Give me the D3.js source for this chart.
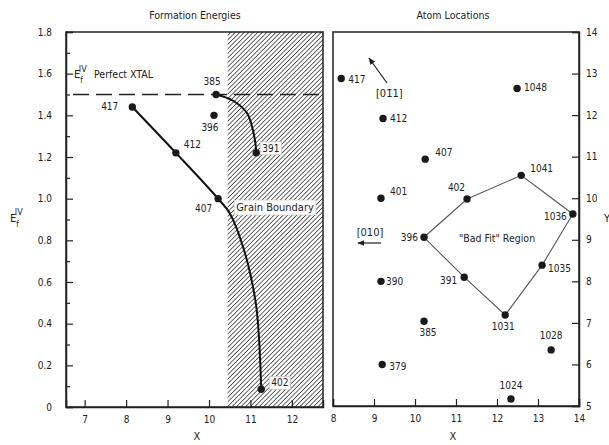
<!DOCTYPE html>
<html>
  <head>
    <meta charset="UTF-8">
    <style>
      body {
        margin: 0;
        background: white;
      }

      svg text {
        font-family: "Liberation Sans Narrow", "DejaVu Sans Condensed", "Liberation Sans", sans-serif;
        fill: #222;
        font-size: 10px;
      }

      .axis .domain {
        stroke: #222;
        stroke-width: 1.5;
      }

      .axis .tick line {
        stroke: #222;
        stroke-width: 1.2;
      }
    </style>
    <script src="https://d3js.org/d3.v7.min.js"></script>
  </head>

  <body>
    <svg id="chart"></svg>

    <script type="text/javascript">
      // left panel: formation energies vs x
      let energyIds = ['417', '412', '407', '402', '385', '396', '391']
      let energyX = [8.15, 9.2, 10.22, 11.26, 10.17, 10.12, 11.14]
      let energyE = [1.44, 1.22, 1.0, 0.085, 1.5, 1.4, 1.22]

      // hand-traced curves through the points
      let curveOne = [[8.15, 1.44], [9.2, 1.22], [10.22, 1.0], [10.5, 0.93], [10.85, 0.75], [11.12, 0.51], [11.2, 0.35], [11.26, 0.085]]
      let curveTwo = [[10.17, 1.5], [10.58, 1.47], [10.92, 1.41], [11.1, 1.29], [11.14, 1.22]]

      let perfectXtal = 1.5
      let grainStart = 10.45

      let energyXTicks = [7, 8, 9, 10, 11, 12]
      let energyYTicks = [0, 0.2, 0.4, 0.6, 0.8, 1.0, 1.2, 1.4, 1.6, 1.8]
      let energyYMinor = [0.1, 0.3, 0.5, 0.7, 0.9, 1.1, 1.3, 1.5, 1.7]

      // right panel: atom locations
      let atomIds = ['417', '412', '1048', '407', '401', '402', '1041', '1036', '396', '1035', '391', '390', '1031', '385', '1028', '379', '1024']
      let atomX = [8.2, 9.22, 12.49, 10.25, 9.17, 11.27, 12.59, 13.85, 10.22, 13.1, 11.2, 9.17, 12.2, 10.22, 13.32, 9.2, 12.34]
      let atomY = [12.88, 11.92, 12.64, 10.94, 10.0, 9.98, 10.55, 9.62, 9.06, 8.39, 8.1, 8.0, 7.19, 7.04, 6.35, 6.0, 5.17]
      let badFitRing = ['396', '402', '1041', '1036', '1035', '1031', '391']

      let atomXTicks = [8, 9, 10, 11, 12, 13, 14]
      let atomYTicks = [5, 6, 7, 8, 9, 10, 11, 12, 13, 14]

      let width = 609
      let height = 445

      let svg = d3.select('#chart')
        .attr('width', width)
        .attr('height', height)

      let defs = svg.append('defs')
      let hatch = defs.append('pattern')
        .attr('id', 'hatch')
        .attr('patternUnits', 'userSpaceOnUse')
        .attr('width', 3.2)
        .attr('height', 3.2)
        .attr('patternTransform', 'rotate(45)')
      hatch.append('rect')
        .attr('width', 3.2).attr('height', 3.2).attr('fill', 'white')
      hatch.append('line')
        .attr('x1', 0).attr('y1', 0).attr('x2', 0).attr('y2', 3.2)
        .attr('stroke', '#333').attr('stroke-width', 1.5)

      function boxedText(g, x, y, txt, anchor, size) {
        let t = g.append('text')
          .attr('x', x).attr('y', y)
          .attr('text-anchor', anchor || 'start')
          .style('font-size', (size || 10) + 'px')
          .text(txt)
        let b = t.node().getBBox()
        g.insert('rect', () => t.node())
          .attr('x', b.x - 2).attr('y', b.y - 1)
          .attr('width', b.width + 4).attr('height', b.height + 2)
          .attr('fill', 'white')
          .attr('stroke', '#bbb').attr('stroke-width', 0.6)
        return t
      }

      // ---------- left panel ----------
      let xL = d3.scaleLinear().domain([6.55, 12.75]).range([66, 323])
      let yL = d3.scaleLinear().domain([0, 1.8]).range([407, 32])

      let left = svg.append('g')

      left.append('rect')
        .attr('x', xL(grainStart)).attr('y', yL(1.8))
        .attr('width', xL(12.75) - xL(grainStart))
        .attr('height', yL(0) - yL(1.8))
        .attr('fill', 'url(#hatch)')

      left.append('line')
        .attr('x1', xL(6.55) + 7).attr('x2', xL(12.75))
        .attr('y1', yL(perfectXtal)).attr('y2', yL(perfectXtal))
        .attr('stroke', '#222').attr('stroke-width', 1.5)
        .attr('stroke-dasharray', '16 7')

      left.append('rect')
        .attr('x', 66).attr('y', 32)
        .attr('width', 323 - 66).attr('height', 407 - 32)
        .attr('fill', 'none').attr('stroke', '#222').attr('stroke-width', 1.5)

      left.append('g')
        .attr('class', 'axis')
        .attr('transform', 'translate(66,0)')
        .call(d3.axisLeft(yL).tickValues(energyYMinor).tickSize(-4).tickFormat(''))
        .call(g => g.select('.domain').remove())

      left.append('g')
        .attr('class', 'axis')
        .attr('transform', 'translate(66,0)')
        .call(d3.axisLeft(yL).tickValues(energyYTicks).tickSize(-7).tickPadding(14)
          .tickFormat(d => d === 0 ? '0' : d3.format('.1f')(d)))
        .call(g => g.selectAll('text').style('font-size', '10px'))

      left.append('g')
        .attr('class', 'axis')
        .attr('transform', 'translate(0,407)')
        .call(d3.axisBottom(xL).tickValues(energyXTicks).tickSize(-7).tickPadding(9).tickFormat(d3.format('d')))

      let line = d3.line()
        .x(d => xL(d[0]))
        .y(d => yL(d[1]))
        .curve(d3.curveCatmullRom.alpha(0.5))

      left.append('path')
        .attr('d', line(curveOne))
        .attr('fill', 'none').attr('stroke', '#111').attr('stroke-width', 2)
      left.append('path')
        .attr('d', line(curveTwo))
        .attr('fill', 'none').attr('stroke', '#111').attr('stroke-width', 2)

      let energyPoints = energyIds.map((id, i) => ({ id, x: energyX[i], e: energyE[i] }))

      left.selectAll('circle.pt')
        .data(energyPoints)
        .enter()
        .append('circle')
        .attr('class', 'pt')
        .attr('cx', d => xL(d.x))
        .attr('cy', d => yL(d.e))
        .attr('r', 3.7)
        .attr('fill', '#1a1a1a')

      let energyLabelPos = {
        '417': [-14, 3, 'end'],
        '412': [8, -5, 'start'],
        '407': [-6, 13, 'end'],
        '402': [10, -3, 'start', true],
        '385': [-4, -10, 'middle'],
        '396': [-4, 16, 'middle'],
        '391': [6, -1, 'start', true]
      }
      energyPoints.forEach(d => {
        let p = energyLabelPos[d.id]
        let x = xL(d.x) + p[0]
        let y = yL(d.e) + p[1]
        if (p[3])
          boxedText(left, x, y, d.id, p[2])
        else
          left.append('text').attr('x', x).attr('y', y).attr('text-anchor', p[2]).text(d.id)
      })

      boxedText(left, 275, 211, 'Grain Boundary', 'middle', 11)

      let ef = left.append('text').attr('x', 74).attr('y', 78).style('font-size', '11px')
      ef.append('tspan').text('E')
      ef.append('tspan').attr('dx', 0).attr('dy', 5).style('font-size', '8px').text('f')
      ef.append('tspan').attr('dx', -4).attr('dy', -11).style('font-size', '9px').text('IV')
      left.append('text').attr('x', 94).attr('y', 78).style('font-size', '10.5px').text('Perfect XTAL')

      let ey = left.append('text').attr('x', 10).attr('y', 222).style('font-size', '11px')
      ey.append('tspan').text('E')
      ey.append('tspan').attr('dy', 5).style('font-size', '8px').text('f')
      ey.append('tspan').attr('dx', -4).attr('dy', -12).style('font-size', '9px').text('IV')

      left.append('text')
        .attr('x', 195).attr('y', 19)
        .attr('text-anchor', 'middle')
        .style('font-size', '10.5px')
        .text('Formation Energies')

      left.append('text')
        .attr('x', 197).attr('y', 440)
        .attr('text-anchor', 'middle')
        .style('font-size', '11px')
        .text('X')

      // ---------- right panel ----------
      let xR = d3.scaleLinear().domain([8, 14]).range([333, 579])
      let yR = d3.scaleLinear().domain([5, 14]).range([406, 32])

      let right = svg.append('g')

      right.append('rect')
        .attr('x', 333).attr('y', 32)
        .attr('width', 579 - 333).attr('height', 406 - 32)
        .attr('fill', 'none').attr('stroke', '#222').attr('stroke-width', 1.5)

      right.append('g')
        .attr('class', 'axis')
        .attr('transform', 'translate(579,0)')
        .call(d3.axisRight(yR).tickValues(atomYTicks).tickSize(-7).tickPadding(7).tickFormat(d3.format('d')))

      right.append('g')
        .attr('class', 'axis')
        .attr('transform', 'translate(0,406)')
        .call(d3.axisBottom(xR).tickValues(atomXTicks).tickSize(-7).tickPadding(9).tickFormat(d3.format('d')))

      let atoms = atomIds.map((id, i) => ({ id, x: atomX[i], y: atomY[i] }))
      let atomById = {}
      atoms.forEach(a => atomById[a.id] = a)

      let ring = badFitRing.map(id => atomById[id])
      right.append('path')
        .attr('d', d3.line().x(d => xR(d.x)).y(d => yR(d.y))(ring) + 'Z')
        .attr('fill', 'none').attr('stroke', '#555').attr('stroke-width', 1.1)

      right.selectAll('circle.pt')
        .data(atoms)
        .enter()
        .append('circle')
        .attr('class', 'pt')
        .attr('cx', d => xR(d.x))
        .attr('cy', d => yR(d.y))
        .attr('r', 3.7)
        .attr('fill', '#1a1a1a')

      let atomLabelPos = {
        '417': [7, 4, 'start'],
        '412': [7, 4, 'start'],
        '1048': [7, 2, 'start'],
        '407': [10, -3, 'start'],
        '401': [9, -3, 'start'],
        '402': [-2, -8, 'end'],
        '1041': [9, -3, 'start'],
        '1036': [-6, 6, 'end'],
        '396': [-6, 4, 'end'],
        '1035': [6, 7, 'start'],
        '391': [-7, 7, 'end'],
        '390': [5, 4, 'start'],
        '1031': [-2, 15, 'middle'],
        '385': [4, 15, 'middle'],
        '1028': [0, -11, 'middle'],
        '379': [7, 6, 'start'],
        '1024': [0, -10, 'middle']
      }
      atoms.forEach(d => {
        let p = atomLabelPos[d.id]
        right.append('text')
          .attr('x', xR(d.x) + p[0])
          .attr('y', yR(d.y) + p[1])
          .attr('text-anchor', p[2])
          .text(d.id)
      })

      right.append('text')
        .attr('x', 497).attr('y', 242)
        .attr('text-anchor', 'middle')
        .style('font-size', '10.5px')
        .text('"Bad Fit" Region')

      // crystal direction arrows
      defs.append('marker')
        .attr('id', 'head')
        .attr('viewBox', '0 0 10 10')
        .attr('refX', 9).attr('refY', 5)
        .attr('markerWidth', 6).attr('markerHeight', 6)
        .attr('orient', 'auto-start-reverse')
        .append('path')
        .attr('d', 'M0,1 L10,5 L0,9 Z')
        .attr('fill', '#222')

      right.append('line')
        .attr('x1', 387).attr('y1', 83).attr('x2', 369).attr('y2', 58)
        .attr('stroke', '#222').attr('stroke-width', 1.2)
        .attr('marker-end', 'url(#head)')
      right.append('text')
        .attr('x', 376).attr('y', 97)
        .style('font-size', '11px')
        .text('[01\u03041]')

      right.append('line')
        .attr('x1', 381).attr('y1', 243).attr('x2', 358).attr('y2', 243)
        .attr('stroke', '#222').attr('stroke-width', 1.2)
        .attr('marker-end', 'url(#head)')
      right.append('text')
        .attr('x', 370).attr('y', 236)
        .attr('text-anchor', 'middle')
        .style('font-size', '11px')
        .text('[010]')

      right.append('text')
        .attr('x', 453).attr('y', 19)
        .attr('text-anchor', 'middle')
        .style('font-size', '10.5px')
        .text('Atom Locations')

      right.append('text')
        .attr('x', 453).attr('y', 440)
        .attr('text-anchor', 'middle')
        .style('font-size', '11px')
        .text('X')

      right.append('text')
        .attr('x', 604).attr('y', 222)
        .style('font-size', '11px')
        .text('Y')
    </script>
  </body>
</html>
